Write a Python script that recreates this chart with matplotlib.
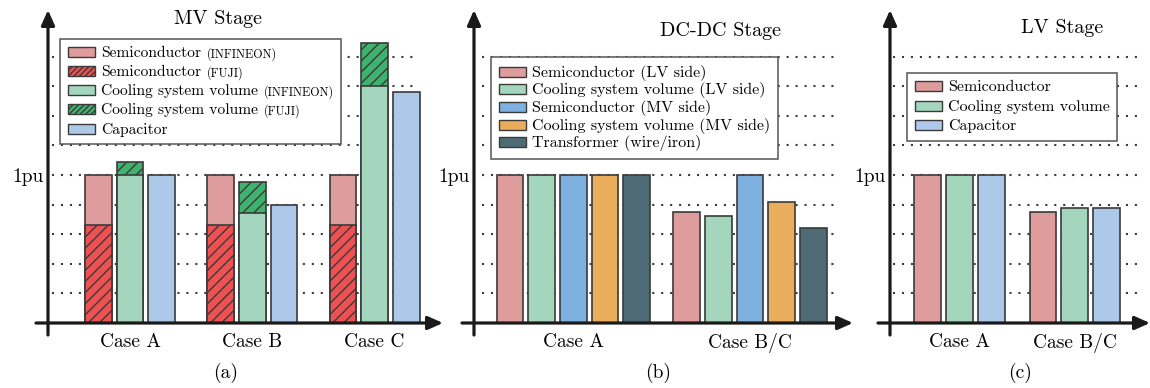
import matplotlib
matplotlib.use('Agg')
import matplotlib.pyplot as plt
from matplotlib.patches import Rectangle
from matplotlib.offsetbox import AnchoredOffsetbox, VPacker, HPacker, TextArea, DrawingArea

plt.rcParams['font.family'] = 'cmr10'
plt.rcParams['mathtext.fontset'] = 'cm'
plt.rcParams['axes.unicode_minus'] = False
plt.rcParams['hatch.color'] = '#222222'
plt.rcParams['hatch.linewidth'] = 1.0

# ---- data ----
cases_mv = ['Case A', 'Case B', 'Case C']
semi_infineon = [1.0, 1.0, 1.0]
semi_fuji = [0.66, 0.66, 0.66]
cool_infineon = [1.0, 0.74, 1.60]
cool_fuji = [1.09, 0.95, 1.89]
capacitor_mv = [1.0, 0.80, 1.56]

cases_dc = ['Case A', 'Case B/C']
semi_lv_side = [1.0, 0.75]
cool_lv_side = [1.0, 0.725]
semi_mv_side = [1.0, 1.0]
cool_mv_side = [1.0, 0.82]
transformer = [1.0, 0.645]

cases_lv = ['Case A', 'Case B/C']
semi_lv = [1.0, 0.75]
cool_lv = [1.0, 0.78]
capacitor_lv = [1.0, 0.78]

grid_levels = [0.2, 0.4, 0.6, 0.8, 1.0, 1.2, 1.4, 1.6, 1.8]
ytick_pos = [1.0]
ytick_lab = ['1pu']

# ---- colours ----
PINK = '#de9c9d'
RED = '#ee5152'
MINT = '#a4d5bd'
GREEN = '#3fb36d'
LBLUE = '#adc9e9'
BLUE = '#7eb0e0'
ORANGE = '#e9ad5b'
SLATE = '#4e6b75'
EDGE = '#3a3a3a'
AXC = '#1a1a1a'

W, H = 1150, 388
fig = plt.figure(figsize=(W / 100, H / 100), dpi=100)


def px_axes(left, right, bottom, top):
    return fig.add_axes([left / W, 1 - bottom / H, (right - left) / W, (bottom - top) / H])


def decorate(ax, xmin_f, xmax_f, names, positions):
    ax.set_ylim(0, 2.115)
    for s in ax.spines.values():
        s.set_visible(False)
    for g in grid_levels:
        ax.axhline(g, xmin=xmin_f, xmax=xmax_f, color='#3c3c3c', lw=1.5,
                   ls=(0, (1, 3.3)), zorder=0.5)
    w_px = ax.get_position().width * W
    h_px = ax.get_position().height * H
    arrow = dict(arrowstyle='-|>,head_length=0.9,head_width=0.4', lw=2.3,
                 color=AXC, shrinkA=0, shrinkB=0)
    ax.annotate('', xy=(1, 0), xytext=(-12 / w_px, 0), xycoords='axes fraction',
                arrowprops=arrow, annotation_clip=False, zorder=4)
    ax.annotate('', xy=(0, 1), xytext=(0, -12 / h_px), xycoords='axes fraction',
                arrowprops=arrow, annotation_clip=False, zorder=4)
    ax.set_xticks(positions, names)
    ax.set_yticks(ytick_pos, ytick_lab)
    ax.tick_params(axis='x', length=0, pad=7, labelsize=14)
    ax.tick_params(axis='y', length=0, pad=3, labelsize=14)


def bars(ax, positions, series, pitch, width):
    n = len(series)
    for i, layers in enumerate(series):
        xs = [p + (i - (n - 1) / 2) * pitch for p in positions]
        for vals, fc, hatch in layers:
            ax.bar(xs, vals, width=width, color=fc, edgecolor=EDGE, lw=1.2,
                   hatch=hatch, zorder=2)


def legend(ax, entries, x, y, size=11, sep=3.6):
    rows = []
    for label, suffix, fc, hatch in entries:
        da = DrawingArea(20, 7.2)
        da.add_artist(Rectangle((0, 0), 20, 7.2, facecolor=fc, edgecolor=EDGE,
                                lw=1.0, hatch=hatch))
        parts = [da, TextArea(label, textprops=dict(size=size))]
        if suffix:
            parts.append(TextArea(suffix, textprops=dict(size=8.7)))
        rows.append(HPacker(children=parts, align='baseline', pad=0, sep=4))
    box = VPacker(children=rows, align='left', pad=0, sep=sep)
    ab = AnchoredOffsetbox(loc='upper left', child=box, pad=0.55, borderpad=0,
                           frameon=True, bbox_to_anchor=(x / W, 1 - y / H),
                           bbox_transform=fig.transFigure)
    ab.patch.set_boxstyle('square', pad=0)
    ab.patch.set_edgecolor('#555555')
    ab.patch.set_linewidth(1.1)
    ab.set_zorder(5)
    ax.add_artist(ab)


# ---- (a) MV stage ----
ax1 = px_axes(48, 443, 323, 10)
ax1.set_xlim(-0.671, 2.560)
pos_a = list(range(len(cases_mv)))
bars(ax1, pos_a, [
    [(semi_infineon, PINK, None), (semi_fuji, RED, '///')],
    [(cool_fuji, GREEN, '///'), (cool_infineon, MINT, None)],
    [(capacitor_mv, LBLUE, None)],
], 0.259, 0.218)
decorate(ax1, 0.01, 0.937, cases_mv, pos_a)
legend(ax1, [
    ('Semiconductor', '(INFINEON)', PINK, None),
    ('Semiconductor', '(FUJI)', RED, '//////'),
    ('Cooling system volume', '(INFINEON)', MINT, None),
    ('Cooling system volume', '(FUJI)', GREEN, '//////'),
    ('Capacitor', '', LBLUE, None),
], 60, 39, size=11.2, sep=3.4)

# ---- (b) DC-DC stage ----
ax2 = px_axes(474, 853, 323, 10)
ax2.set_xlim(-0.562, 1.583)
pos_b = list(range(len(cases_dc)))
bars(ax2, pos_b, [
    [(semi_lv_side, PINK, None)],
    [(cool_lv_side, MINT, None)],
    [(semi_mv_side, BLUE, None)],
    [(cool_mv_side, ORANGE, None)],
    [(transformer, SLATE, None)],
], 0.179, 0.151)
decorate(ax2, 0.021, 0.966, cases_dc, pos_b)
legend(ax2, [
    ('Semiconductor (LV side)', '', PINK, None),
    ('Cooling system volume (LV side)', '', MINT, None),
    ('Semiconductor (MV side)', '', BLUE, None),
    ('Cooling system volume (MV side)', '', ORANGE, None),
    ('Transformer (wire/iron)', '', SLATE, None),
], 491, 57, size=11.5, sep=1.2)

# ---- (c) LV stage ----
ax3 = px_axes(890, 1150, 323, 10)
ax3.set_xlim(-0.603, 1.654)
pos_c = list(range(len(cases_lv)))
bars(ax3, pos_c, [
    [(semi_lv, PINK, None)],
    [(cool_lv, MINT, None)],
    [(capacitor_lv, LBLUE, None)],
], 0.275, 0.232)
decorate(ax3, 0.012, 0.95, cases_lv, pos_c)
legend(ax3, [
    ('Semiconductor', '', PINK, None),
    ('Cooling system volume', '', MINT, None),
    ('Capacitor', '', LBLUE, None),
], 907, 73, size=11.5, sep=3.8)

# titles and sub-captions
fig.text(218 / W, 1 - 19 / H, 'MV Stage', ha='center', va='center', size=14.5)
fig.text(720 / W, 1 - 31 / H, 'DC-DC Stage', ha='center', va='center', size=14.5)
fig.text(1062 / W, 1 - 28 / H, 'LV Stage', ha='center', va='center', size=14.5)
fig.text(226 / W, 1 - 373 / H, '(a)', ha='center', va='center', size=14)
fig.text(658 / W, 1 - 373 / H, '(b)', ha='center', va='center', size=14)
fig.text(1020 / W, 1 - 373 / H, '(c)', ha='center', va='center', size=14)

fig.savefig('out.png', dpi=100)
